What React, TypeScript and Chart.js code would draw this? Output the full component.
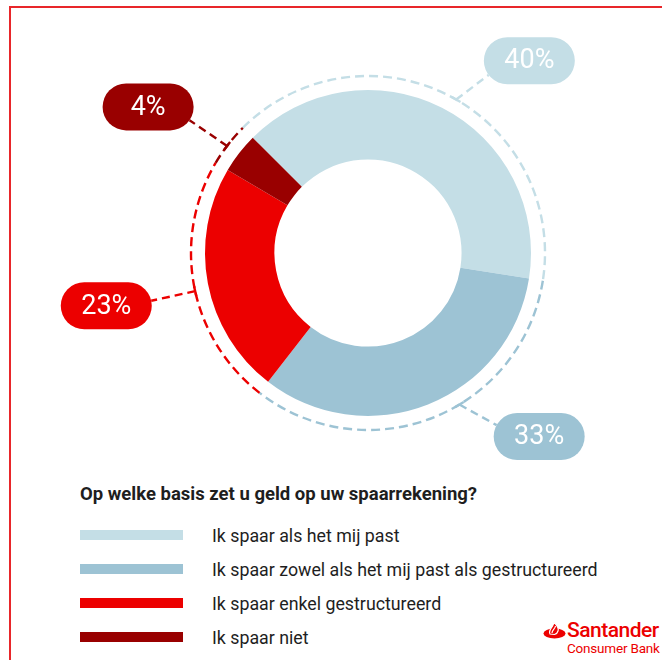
import React, { useEffect, useRef } from "react";
import { Chart, registerables } from "chart.js";

Chart.register(...registerables);

const title = "Op welke basis zet u geld op uw spaarrekening?";
const categories = [
  "Ik spaar als het mij past",
  "Ik spaar zowel als het mij past als gestructureerd",
  "Ik spaar enkel gestructureerd",
  "Ik spaar niet",
];
const values = [40, 33, 23, 4];
const valueLabels = ["40%", "33%", "23%", "4%"];
const colors = ["#c4dee6", "#9dc3d4", "#ec0000", "#990000"];

const FONT = "Roboto, 'Open Sans', sans-serif";

const leaderPlugin = {
  id: "leaders",
  afterDatasetsDraw(chart: any, _args: any, opts: any) {
    const ctx = chart.ctx as CanvasRenderingContext2D;
    const meta = chart.getDatasetMeta(0);
    const ds = chart.data.datasets[0];
    meta.data.forEach((arc: any, i: number) => {
      const p = arc.getProps(["x", "y", "startAngle", "endAngle", "outerRadius"], true);
      const color = ds.backgroundColor[i];
      const R = p.outerRadius + opts.ringGap;
      ctx.save();
      ctx.strokeStyle = color;
      ctx.lineWidth = 2.4;
      ctx.setLineDash([9, 5]);
      ctx.beginPath();
      ctx.arc(p.x, p.y, R, p.startAngle, p.endAngle);
      ctx.stroke();

      const a = p.startAngle + (p.endAngle - p.startAngle) * opts.anchor[i];
      const px = p.x + R * Math.cos(a);
      const py = p.y + R * Math.sin(a);

      const la = ((opts.labelAngle[i] - 90) * Math.PI) / 180;
      const cx = p.x + opts.labelDist[i] * Math.cos(la);
      const cy = p.y + opts.labelDist[i] * Math.sin(la);
      const w = opts.pillW;
      const h = opts.pillH;
      const r = h / 2;
      const ccx = px < cx ? cx - w / 2 + r : cx + w / 2 - r;
      const dx = px - ccx;
      const dy = py - cy;
      const d = Math.hypot(dx, dy);
      const ex = ccx + (dx / d) * r;
      const ey = cy + (dy / d) * r;

      // leader
      ctx.setLineDash([8, 5]);
      ctx.beginPath();
      ctx.moveTo(px, py);
      ctx.lineTo(ex, ey);
      ctx.stroke();
      // tangent tick
      ctx.setLineDash([]);
      const tx = -Math.sin(a) * 5;
      const ty = Math.cos(a) * 5;
      ctx.beginPath();
      ctx.moveTo(px - tx, py - ty);
      ctx.lineTo(px + tx, py + ty);
      ctx.stroke();

      // pill
      ctx.fillStyle = color;
      ctx.beginPath();
      ctx.moveTo(cx - w / 2 + r, cy - r);
      ctx.lineTo(cx + w / 2 - r, cy - r);
      ctx.arc(cx + w / 2 - r, cy, r, -Math.PI / 2, Math.PI / 2);
      ctx.lineTo(cx - w / 2 + r, cy + r);
      ctx.arc(cx - w / 2 + r, cy, r, Math.PI / 2, (3 * Math.PI) / 2);
      ctx.closePath();
      ctx.fill();
      ctx.fillStyle = "#ffffff";
      ctx.font = `400 27px ${FONT}`;
      ctx.textAlign = "center";
      ctx.textBaseline = "middle";
      ctx.fillText(valueLabels[i], cx, cy + 1);
      ctx.restore();
    });
  },
};

function Flame() {
  return (
    <svg width="23" height="17" viewBox="0 0 23 17" style={{ position: "absolute", left: 543, top: 622 }}>
      <ellipse cx="11.5" cy="11.5" rx="11" ry="5" fill="#ec0000" />
      <path d="M7 12 C5 8, 9 6, 10 3 C11 1, 11 0.5, 10.5 0 C14 3, 16 6, 15 9 C14.5 11, 13 12, 11.5 12.5 Z" fill="#ec0000" stroke="#ffffff" strokeWidth="1.2" />
      <path d="M9 11 C9 8, 12 7, 12.5 4" fill="none" stroke="#ffffff" strokeWidth="1.2" />
    </svg>
  );
}

export default function App() {
  const ref = useRef<HTMLCanvasElement | null>(null);
  useEffect(() => {
    if (!ref.current) return;
    const chart = new Chart(ref.current, {
      type: "doughnut",
      data: {
        labels: categories,
        datasets: [
          {
            data: values,
            backgroundColor: colors,
            borderWidth: 0,
          },
        ],
      },
      options: {
        responsive: false,
        animation: false,
        rotation: -45,
        cutout: "57.4%",
        layout: { padding: { left: 205, right: 131, top: 90, bottom: 54 } },
        plugins: {
          legend: { display: false },
          tooltip: { enabled: false },
          leaders: {
            ringGap: 14,
            anchor: [0.52, 0.42, 0.48, 0.46],
            labelAngle: [40, 137, 258.6, 303.6],
            labelDist: [251, 251, 267, 264],
            pillW: 91,
            pillH: 47,
          },
        } as any,
      },
      plugins: [leaderPlugin],
    });
    return () => chart.destroy();
  }, []);

  return (
    <div style={{ position: "absolute", left: 0, top: 0, width: 662, height: 660, overflow: "hidden", background: "#fff", fontFamily: FONT }}>
      <div style={{ position: "absolute", left: 9, top: 6, width: 700, height: 700, borderTop: "2px solid #e8262a", borderLeft: "2px solid #e8262a" }} />
      <canvas ref={ref} width={662} height={470} style={{ position: "absolute", left: 0, top: 0 }} />
      <div style={{ position: "absolute", left: 80, top: 482, lineHeight: "24px", fontSize: 18.5, fontWeight: 700, color: "#1e1e1e", whiteSpace: "nowrap" }}>
        {title}
      </div>
      {categories.map((c, i) => (
        <div key={c} style={{ position: "absolute", left: 80, top: 518 + i * 34, height: 34, display: "flex", alignItems: "center", whiteSpace: "nowrap" }}>
          <div style={{ width: 103, height: 10, background: colors[i] }} />
          <div style={{ marginLeft: 29, fontSize: 17.8, color: "#1e1e1e" }}>{c}</div>
        </div>
      ))}
      <Flame />
      <div style={{ position: "absolute", left: 567, top: 619, fontSize: 21, fontWeight: 500, color: "#ec0000", lineHeight: "22px", letterSpacing: -0.5 }}>Santander</div>
      <div style={{ position: "absolute", left: 567, top: 640, fontSize: 13.5, color: "#ec0000", lineHeight: "16px", letterSpacing: -0.2 }}>Consumer Bank</div>
    </div>
  );
}
